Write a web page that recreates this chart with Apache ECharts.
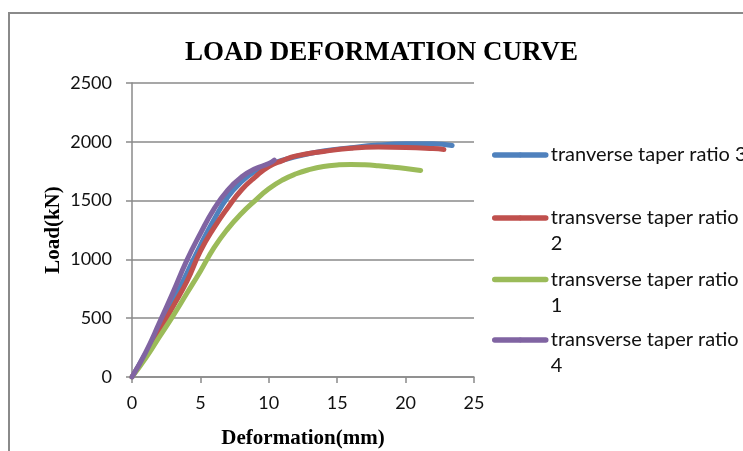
<!DOCTYPE html>
<html>
<head>
<meta charset="utf-8">
<script src="https://cdn.jsdelivr.net/npm/echarts@6/dist/echarts.min.js"></script>
<style>
html,body{margin:0;padding:0;background:#fff;}
#frame{position:absolute;left:8px;top:12px;width:800px;height:500px;border-left:2px solid #8a8a8a;border-top:2px solid #8a8a8a;}
#chart{position:absolute;left:0;top:0;width:743px;height:451px;}
</style>
</head>
<body>
<div id="frame"></div>
<div id="chart"></div>
<script>
// Series data: [deformation (mm), load (kN)]
var ratio3 = [[0,0],[1,200],[2,410],[3,640],[4,880],[5,1120],[6,1340],[7,1530],[8,1660],[9,1750],[10,1805],[12,1875],[14,1922],[16,1950],[18,1972],[20,1983],[22,1984],[23.4,1968]];
var ratio2 = [[0,0],[1,190],[2,390],[3,600],[4,810],[5,1070],[6,1270],[7,1440],[8,1590],[9,1700],[10,1790],[11,1840],[12,1880],[14,1918],[16,1945],[18,1955],[20,1952],[22,1942],[22.8,1935]];
var ratio1 = [[0,0],[1,160],[2,340],[3,520],[4,710],[5,900],[6,1100],[7,1260],[8,1390],[9,1500],[10,1600],[11,1675],[12,1728],[13,1765],[14,1790],[15,1803],[16,1808],[17,1805],[18,1797],[19,1786],[20,1773],[21.1,1756]];
var ratio4 = [[0,0],[1,210],[2,460],[3,720],[4,990],[5,1220],[6,1430],[7,1590],[8,1700],[9,1770],[10,1815],[10.4,1845]];

var seriesNames = ['tranverse taper ratio 3','transverse taper ratio 2','transverse taper ratio 1','transverse taper ratio 4'];
var legendLabels = ['tranverse taper ratio 3','\ntransverse taper ratio\n2','\ntransverse taper ratio\n1','\ntransverse taper ratio\n4'];
var seriesData = [ratio3, ratio2, ratio1, ratio4];
var colors = ['#4F81BD','#C0504D','#9BBB59','#8064A2'];

var titleText = 'LOAD DEFORMATION CURVE';
var xName = 'Deformation(mm)';
var yName = 'Load(kN)';

var labelFont = 'Lato';
var legendTops = [142, 179, 240.5, 301];

var chart = echarts.init(document.getElementById('chart'), null, {renderer:'canvas'});

var legends = seriesNames.map(function(n, i){
  return {
    show: true,
    orient: 'vertical',
    left: 492,
    top: legendTops[i],
    right: 'auto',
    bottom: 'auto',
    padding: 0,
    itemWidth: 51,
    itemHeight: 6,
    data: [n],
    formatter: function(name){ return legendLabels[seriesNames.indexOf(name)]; },
    lineStyle: {width: 5.5, cap: 'round'},
    textStyle: {fontFamily: labelFont, fontSize: 20, color: '#111', lineHeight: 26}
  };
});

chart.setOption({
  animation: false,
  backgroundColor: 'transparent',
  color: colors,
  title: {
    text: titleText,
    left: 185,
    top: 40,
    padding: 0,
    textStyle: {fontFamily: 'Liberation Serif', fontWeight: 'bold', fontSize: 27, color: '#000'}
  },
  legend: legends,
  grid: {left: 132, right: 269, top: 83, bottom: 74, containLabel: false, outerBoundsMode: 'none'},
  xAxis: {
    type: 'value', min: 0, max: 25, interval: 5,
    name: xName, nameLocation: 'middle', nameGap: 51,
    nameTextStyle: {fontFamily: 'Liberation Serif', fontWeight: 'bold', fontSize: 21, color: '#000'},
    axisLine: {show: true, lineStyle: {color: '#8a8a8a', width: 1.5}},
    axisTick: {show: true, length: 6, inside: false, lineStyle: {color: '#8a8a8a', width: 1.5}},
    axisLabel: {margin: 17, fontFamily: labelFont, fontSize: 18, color: '#111', formatter: function(v){ return String(v); }},
    splitLine: {show: false}
  },
  yAxis: {
    type: 'value', min: 0, max: 2500, interval: 500,
    name: yName, nameLocation: 'middle', nameGap: 68, nameRotate: 90,
    nameTextStyle: {fontFamily: 'Liberation Serif', fontWeight: 'bold', fontSize: 21, color: '#000'},
    axisLine: {show: true, lineStyle: {color: '#8a8a8a', width: 1.5}},
    axisTick: {show: true, length: 6, inside: false, lineStyle: {color: '#8a8a8a', width: 1.5}},
    axisLabel: {margin: 20, fontFamily: labelFont, fontSize: 18, color: '#111', formatter: function(v){ return String(v); }},
    splitLine: {show: true, lineStyle: {color: '#8a8a8a', width: 1.5}}
  },
  series: seriesNames.map(function(n, i){
    return {
      name: n, type: 'line', data: seriesData[i], smooth: true,
      showSymbol: false, symbol: 'none',
      lineStyle: {width: 5, color: colors[i], cap: 'round', join: 'round'}
    };
  })
});
</script>
</body>
</html>
